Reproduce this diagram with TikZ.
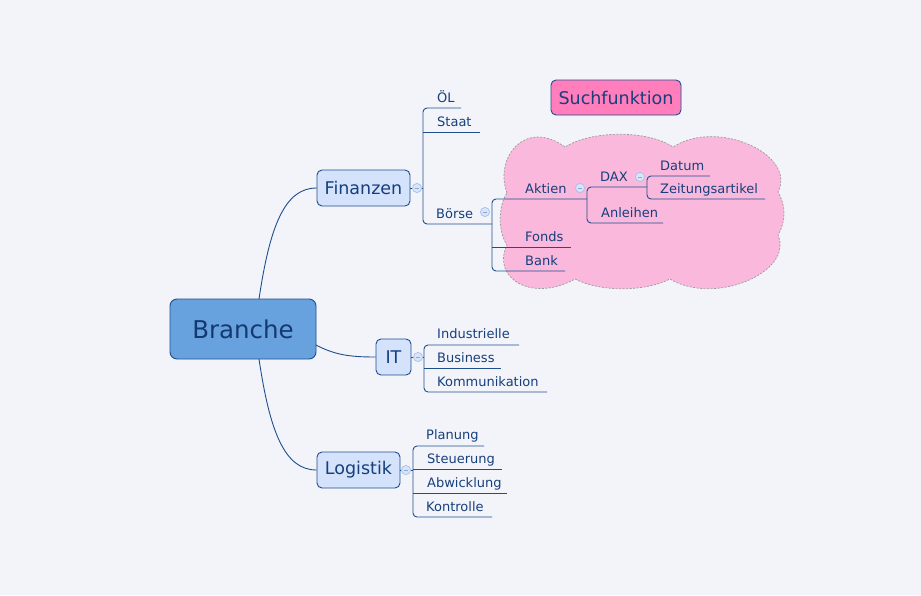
\documentclass[tikz,border=0pt]{standalone}
\usepackage{fontspec}
\setmainfont{DejaVu Sans}
\definecolor{bg}{HTML}{F2F4FA}
\definecolor{ln}{HTML}{1F4E8C}
\definecolor{tx}{HTML}{163F7C}
\definecolor{boxfill}{HTML}{D4E2FB}
\definecolor{rootfill}{HTML}{68A2DE}
\definecolor{pinkbox}{HTML}{FF7EBB}
\definecolor{cloudfill}{HTML}{F9B8DC}
\definecolor{cloudline}{HTML}{9A9A9A}
\definecolor{knobfill}{HTML}{D8E4F8}
\definecolor{knobline}{HTML}{A9C0E8}
\tikzset{
  lbl/.style={anchor=base west, inner sep=0pt, text=tx, font=\fontsize{13}{15}\selectfont},
  topic/.style={draw=ln, line width=0.9pt, fill=boxfill, rounded corners=5pt, inner sep=0pt, text=tx, font=\fontsize{17.5}{20}\selectfont, minimum height=36pt},
  conn/.style={draw=ln, line width=0.9pt},
  tree/.style={draw=ln, line width=0.9pt, rounded corners=4pt},
}
\newcommand{\knob}[1]{%
  \fill[knobfill] (#1) circle (4.6pt);
  \draw[knobline, line width=0.7pt] (#1) circle (4.6pt);
  \draw[knobline!80!ln, line width=0.6pt] ($(#1)+(-2.3pt,0)$) -- ($(#1)+(2.3pt,0)$);
}
\usetikzlibrary{calc}
\begin{document}
\begin{tikzpicture}[x=1pt,y=-1pt]
\useasboundingbox (0,0) rectangle (921,595);
\fill[bg] (0,0) rectangle (921,595);

% cloud
\draw[cloudline, fill=cloudfill, dash pattern=on 2pt off 1.5pt, line width=0.7pt]
  (507,193) .. controls (494,158) and (525,118) .. (565,147)
  .. controls (592,130) and (648,130) .. (673,147)
  .. controls (718,118) and (797,155) .. (778,192)
  .. controls (786,205) and (786,222) .. (778,235)
  .. controls (794,272) and (715,306) .. (670,279)
  .. controls (645,292) and (600,292) .. (575,279)
  .. controls (532,303) and (491,278) .. (507,245)
  .. controls (498,232) and (498,206) .. cycle;

% main nodes
\node[draw=ln, line width=0.9pt, fill=rootfill, rounded corners=7pt, minimum width=146pt, minimum height=60pt, inner sep=0pt, text=tx!90!black, font=\fontsize{24.5}{28}\selectfont] (branche) at (243,329) {Branche};
\node[topic, minimum width=93pt] (fin) at (363.5,188) {Finanzen};
\node[topic, minimum width=35pt] (it) at (393.5,357) {IT};
\node[topic, minimum width=83pt] (log) at (358.5,470) {Logistik};
\node[topic, fill=pinkbox, minimum width=130pt, minimum height=35pt] (such) at (616,97.5) {Suchfunktion};

% branch curves
\draw[conn] (259,299) .. controls (270,225) and (285,188) .. (fin.west);
\draw[conn] (316,345) .. controls (335,355) and (350,357) .. (it.west);
\draw[conn] (259,359) .. controls (270,433) and (285,470) .. (log.west);

% coordinates of junctions
\coordinate (jf) at (423,188);
\coordinate (ji) at (424,357);
\coordinate (jl) at (413,470);
\coordinate (kf) at (417,188);
\coordinate (ki) at (418,357);
\coordinate (kl) at (406,470);
\coordinate (kb) at (485,212);
\coordinate (ka) at (580,188);
\coordinate (kd) at (640,177);

\draw[conn] (fin.east) -- (jf);
\draw[conn] (it.east) -- (ji);
\draw[conn] (log.east) -- (jl);

% labels
\node[lbl] (oel) at (437,102) {ÖL};
\node[lbl] (staat) at (437,126) {Staat};
\node[lbl] (boerse) at (436,218) {Börse};
\node[lbl] (aktien) at (525,193) {Aktien};
\node[lbl] (dax) at (600,181) {DAX};
\node[lbl] (datum) at (660,170) {Datum};
\node[lbl] (zeit) at (660,193) {Zeitungsartikel};
\node[lbl] (anl) at (601,217) {Anleihen};
\node[lbl] (fonds) at (525,241) {Fonds};
\node[lbl] (bank) at (525,265) {Bank};
\node[lbl] (ind) at (437,338) {Industrielle};
\node[lbl] (bus) at (437,362) {Business};
\node[lbl] (kom) at (437,386) {Kommunikation};
\node[lbl] (plan) at (426,439) {Planung};
\node[lbl] (steu) at (427,463) {Steuerung};
\node[lbl] (abw) at (427,487) {Abwicklung};
\node[lbl] (kon) at (426,511) {Kontrolle};

% Finanzen tree
\draw[tree] (461,108) -- (423,108) -- (423,224) -- (492,224);
\draw[conn] (423,132) -- (480,132);
% Börse tree
\draw[tree] (587,199) -- (492,199) -- (492,271) -- (565,271);
\draw[conn] (492,247) -- (571,247);
% Aktien tree
\draw[tree] (647,187) -- (587,187) -- (587,223) -- (663,223);
% DAX tree
\draw[tree] (710,176) -- (647,176) -- (647,199) -- (765,199);
% IT tree
\draw[tree] (519,345) -- (424,345) -- (424,392) -- (547,392);
\draw[conn] (424,368) -- (501,368);
% Logistik tree
\draw[tree] (484,446) -- (413,446) -- (413,517) -- (492,517);
\draw[conn] (413,469) -- (502,469);
\draw[conn] (413,493) -- (507,493);

% knobs
\knob{kf}
\knob{ki}
\knob{kl}
\knob{kb}
\knob{ka}
\knob{kd}
\end{tikzpicture}
\end{document}
